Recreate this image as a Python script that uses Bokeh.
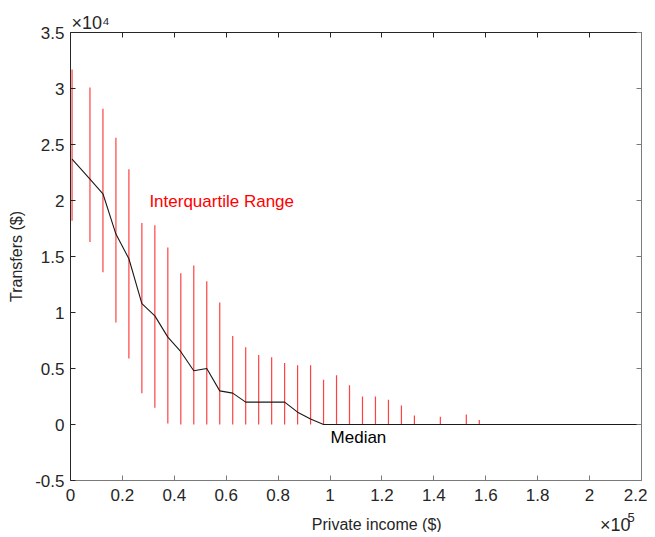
from bokeh.plotting import figure
from bokeh.models import LinearAxis, Label, Range1d, FixedTicker, Title
from bokeh.layouts import column
from bokeh.embed import file_html
from bokeh.resources import INLINE

# ---- data ----
income = [600, 7500, 12500, 17500, 22500, 27500, 32500, 37500, 42500, 47500,
          52500, 57500, 62500, 67500, 72500, 77500, 82500, 87500, 92500, 97500,
          102500, 107500, 112500, 117500, 122500, 127500, 132500, 137500, 142500, 147500,
          152500, 157500, 162500, 167500, 172500, 177500, 182500, 187500, 192500, 197500,
          202500, 207500, 212500, 217500, 220000]
median = [23700, 21900, 20600, 17000, 14800, 10800, 9700, 7800, 6500, 4800,
          5000, 3000, 2800, 2000, 2000, 2000, 2000, 1100, 500, 0,
          0, 0, 0, 0, 0, 0, 0, 0, 0, 0,
          0, 0, 0, 0, 0, 0, 0, 0, 0, 0,
          0, 0, 0, 0, 0]
q1 = [18200, 16300, 13600, 9100, 5900, 2800, 1500, 100, 0, 0,
      0, 0, 0, 0, 0, 0, 0, 0, 0, 0,
      0, 0, 0, 0, 0, 0, 0, 0, 0, 0,
      0, 0, 0, 0, 0, 0, 0, 0, 0, 0,
      0, 0, 0, 0, 0]
q3 = [31700, 30100, 28200, 25600, 22800, 18000, 17800, 15800, 13500, 14200,
      12800, 10900, 7900, 6900, 6200, 6000, 5500, 5300, 5300, 4000,
      4400, 3500, 2500, 2500, 2200, 1700, 800, 0, 700, 0,
      900, 400, 0, 0, 0, 0, 0, 0, 0, 0,
      0, 0, 0, 0, 0]

x_ticks = [0, 20000, 40000, 60000, 80000, 100000, 120000, 140000, 160000, 180000, 200000, 220000]
x_tick_labels = ["0", "0.2", "0.4", "0.6", "0.8", "1", "1.2", "1.4", "1.6", "1.8", "2", "2.2"]
y_ticks = [-5000, 0, 5000, 10000, 15000, 20000, 25000, 30000, 35000]
y_tick_labels = ["-0.5", "0", "0.5", "1", "1.5", "2", "2.5", "3", "3.5"]

FONT = "Liberation Sans"
TXT = "#262626"
W = 647

p = figure(width=W, height=510, output_backend="svg", toolbar_location=None,
           x_range=Range1d(0, 220000), y_range=Range1d(-5000, 35000),
           min_border_left=70, min_border_right=6, min_border_top=32, min_border_bottom=30)
p.xgrid.visible = False
p.ygrid.visible = False
p.outline_line_color = None
p.background_fill_color = "white"
p.border_fill_color = "white"

# exponent of the y axis as a left-aligned title above the frame
p.title = Title(text="\u00d710\u2074", align="left", text_font=FONT, text_font_size="18px",
                text_font_style="normal", text_color=TXT, offset=1, standoff=0)

# IQR bars
bx, b0, b1 = [], [], []
for xi, lo, hi in zip(income, q1, q3):
    if hi > lo:
        bx.append(xi); b0.append(lo); b1.append(hi)
p.segment(x0=bx, y0=b0, x1=bx, y1=b1, line_color="#ff2020", line_width=1.2, line_alpha=0.85)

# median
p.line(income, median, line_color="#1a1a1a", line_width=1.1)

def style_axis(ax, show_labels, color):
    ax.major_tick_in = 5
    ax.major_tick_out = 0
    ax.minor_tick_line_color = None
    ax.axis_line_color = color
    ax.major_tick_line_color = color
    ax.major_label_text_font = FONT
    ax.major_label_text_font_size = "17px"
    ax.major_label_text_color = TXT
    if not show_labels:
        ax.major_label_text_font_size = "0px"
        ax.major_label_standoff = 0

xa = p.xaxis[0]
style_axis(xa, True, "#7a7a7a")
xa.ticker = FixedTicker(ticks=x_ticks)
xa.major_label_overrides = {t: l for t, l in zip(x_ticks, x_tick_labels)}
xa.major_label_standoff = 8

ya = p.yaxis[0]
style_axis(ya, True, "#262626")
ya.ticker = FixedTicker(ticks=y_ticks)
ya.major_label_overrides = {t: l for t, l in zip(y_ticks, y_tick_labels)}
ya.major_label_standoff = 6
ya.axis_label = "Transfers ($)"
ya.axis_label_text_font = FONT
ya.axis_label_text_font_size = "16px"
ya.axis_label_text_font_style = "normal"
ya.axis_label_text_color = TXT
ya.axis_label_standoff = 7

top = LinearAxis()
style_axis(top, False, "#262626")
top.ticker = FixedTicker(ticks=x_ticks)
top.major_label_overrides = {t: "" for t in x_ticks}
p.add_layout(top, "above")

right = LinearAxis()
style_axis(right, False, "#7a7a7a")
right.ticker = FixedTicker(ticks=y_ticks)
right.major_label_overrides = {t: "" for t in y_ticks}
p.add_layout(right, "right")

# annotations
p.add_layout(Label(x=30400, y=19900, text="Interquartile Range", text_color="#ff0000",
                   text_font=FONT, text_font_size="17px", text_baseline="middle"))
p.add_layout(Label(x=100200, y=-1160, text="Median", text_color="#000000",
                   text_font=FONT, text_font_size="17px", text_baseline="middle"))

# strip under the plot carrying the x-axis title and the x exponent
SH = 22
s = figure(width=W, height=SH, output_backend="svg", toolbar_location=None,
           x_range=Range1d(0, W), y_range=Range1d(0, SH),
           x_axis_location=None, y_axis_location=None,
           min_border_left=0, min_border_right=0, min_border_top=0, min_border_bottom=0)
s.xgrid.visible = False
s.ygrid.visible = False
s.outline_line_color = None
s.border_fill_color = "white"

def strip_label(x, y, text, size, align="left"):
    s.add_layout(Label(x=x, y=y, text=text, text_color=TXT, text_font=FONT,
                       text_font_size=size, text_align=align, text_baseline="alphabetic"))

strip_label(347, 8, "Private income ($)", "16px", "center")
strip_label(600, 8, "\u00d710", "18px")
strip_label(631, 15, "5", "13px")

layout = column(p, s, spacing=0)
open("out.html", "w").write(file_html(layout, INLINE))
